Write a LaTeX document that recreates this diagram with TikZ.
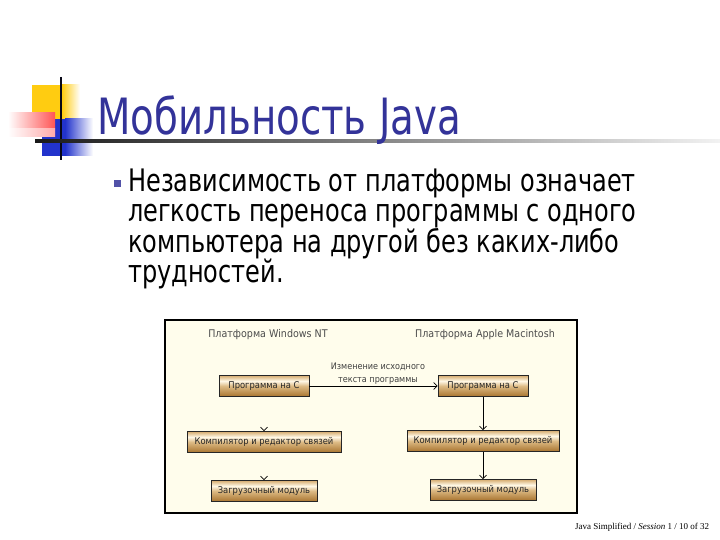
\documentclass[tikz,border=0pt]{standalone}
\usepackage{fontspec}
\setmainfont{DejaVu Sans}[FakeStretch=0.9]
\newfontfamily\slidefont{DejaVu Sans}[FakeStretch=0.775]
\newfontfamily\footfont{Liberation Serif}
\usetikzlibrary{arrows.meta}
\definecolor{navy}{HTML}{333399}
\definecolor{cream}{HTML}{FFFDEC}
\definecolor{boxtop}{HTML}{D6AC70}
\definecolor{boxmid}{HTML}{FFF8E6}
\definecolor{boxlow}{HTML}{DDBB85}
\definecolor{boxbot}{HTML}{A8742F}
\definecolor{logoyellow}{HTML}{FFCC11}
\definecolor{logored}{HTML}{FF2A2A}
\definecolor{logoblue}{HTML}{2233CC}
\pgfdeclareverticalshading{boxshade}{100bp}{color(0bp)=(boxbot); color(25bp)=(boxbot); color(50bp)=(boxlow); color(62bp)=(boxmid); color(75bp)=(boxtop); color(100bp)=(boxtop)}
\begin{document}
\begin{tikzpicture}[x=1pt,y=-1pt,
  boxnode/.style={draw=black!85, line width=0.8pt, shading=boxshade, inner sep=0pt,
    minimum height=21pt, font=\fontsize{9.3}{10}\selectfont, text=black!85},
  hdr/.style={font=\fontsize{10.6}{11}\selectfont, text=black!70, inner sep=0pt},
  body/.style={font=\slidefont\fontsize{31}{34}\selectfont, text=black, anchor=base west, inner sep=0pt},
  conn/.style={line width=0.7pt, -{Straight Barb[length=3.5pt,width=7pt]}},
  ghost/.style={draw=cream, line width=0.7pt, -{Straight Barb[length=3.5pt,width=7pt,color=black]}}]
\useasboundingbox (0,0) rectangle (720,540);
\fill[white] (0,0) rectangle (720,540);
% logo
\fill[logoyellow] (32,85) rectangle (62,119);
\shade[left color=logoyellow, right color=white] (62,85) rectangle (80,119);
\fill[logoblue] (42,119) rectangle (65,156);
\shade[left color=logoblue, right color=white] (65,119) rectangle (93,156);
\shade[left color=white, right color=logored!80] (8,113) rectangle (55,137);
\shade[top color=white, bottom color=white, opacity=0.5] (8,129) rectangle (55,137);
\draw[line width=2pt, black!85!navy] (61,77) -- (61,160);
\shade[left color=black!90, right color=black!5] (35,139.8) rectangle (720,142.3);
% title
\node[font=\slidefont\fontsize{50}{56}\selectfont, text=navy, anchor=base west, inner sep=0pt] (title) at (97,135) {Мобильность Java};
% bullet
\fill[navy!85] (114,180) rectangle (121,187);
\node[body] (l1) at (128,192) {Независимость от платформы означает};
\node[body] (l2) at (128,222) {легкость переноса программы с одного};
\node[body] (l3) at (128,252) {компьютера на другой без каких-либо};
\node[body] (l4) at (128,282) {трудностей.};
% diagram frame
\draw[line width=2pt, fill=cream] (165,320) rectangle (577,513);
\node[hdr] (h1) at (268,335) {Платформа Windows NT};
\node[hdr] (h2) at (485,335) {Платформа Apple Macintosh};
\node[boxnode, minimum width=90pt] (b1) at (264,386) {Программа на С};
\node[boxnode, minimum width=90pt] (b2) at (483,386) {Программа на С};
\node[boxnode, minimum width=154pt] (c1) at (264,442) {Компилятор и редактор связей};
\node[boxnode, minimum width=152pt] (c2) at (483,441) {Компилятор и редактор связей};
\node[boxnode, minimum width=106pt] (m1) at (264,491) {Загрузочный модуль};
\node[boxnode, minimum width=106pt] (m2) at (483,490) {Загрузочный модуль};
\node[font=\fontsize{9}{13}\selectfont, text=black!75, align=center, inner sep=0pt] (chg) at (378,373.5) {Изменение исходного\\текста программы};
\draw[conn] (b1.east) -- (b2.west);
\draw[conn] (b2.south) -- (c2.north);
\draw[conn] (c2.south) -- (m2.north);
\draw[ghost] (b1.south) -- (c1.north);
\draw[ghost] (c1.south) -- (m1.north);
% footer
\node[font=\footfont\fontsize{9}{10}\selectfont, anchor=west, inner sep=0pt] (foot) at (575,527) {Java Simplified / \textit{Session} 1 / 10 of 32};
\end{tikzpicture}
\end{document}
